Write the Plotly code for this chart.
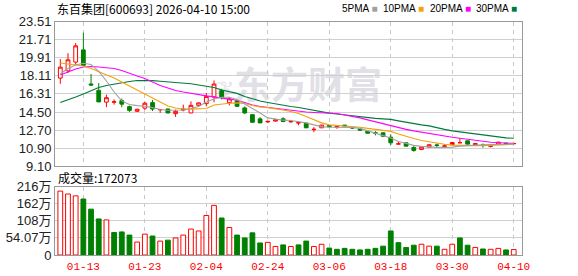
import plotly.graph_objects as go

# ---------------- data ----------------
dates = ["01-08", "01-09", "01-12", "01-13", "01-14", "01-15", "01-16", "01-19", "01-20", "01-21",
         "01-22", "01-23", "01-26", "01-27", "01-28", "01-29", "01-30",
         "02-02", "02-03", "02-04", "02-05", "02-06", "02-09", "02-10", "02-11", "02-12", "02-13",
         "02-24", "02-25", "02-26", "02-27",
         "03-02", "03-03", "03-04", "03-05", "03-06", "03-09", "03-10", "03-11", "03-12", "03-13",
         "03-16", "03-17", "03-18", "03-19", "03-20", "03-23", "03-24", "03-25", "03-26", "03-27",
         "03-30", "03-31", "04-01", "04-02", "04-03", "04-07", "04-08", "04-09", "04-10"]

opens = [17.89, 18.61, 19.48, 20.70, 17.30, 16.66, 15.49, 15.48, 15.64, 15.04,
         14.58, 14.89, 15.44, 14.72, 14.81, 14.34, 14.70, 14.41, 15.17, 15.34,
         16.00, 16.63, 15.44, 15.61, 14.91, 14.24, 13.82, 13.52, 13.60, 13.82,
         13.53, 13.41, 13.40, 12.75, 12.93, 13.15, 13.00, 13.20, 12.97, 12.80,
         12.59, 12.44, 12.43, 11.99, 11.30, 11.43, 10.97, 10.77, 11.00, 11.22,
         11.08, 11.24, 11.43, 11.63, 11.24, 11.22, 11.08, 11.27, 11.40, 11.33]
highs = [19.78, 20.37, 21.37, 22.42, 18.29, 17.39, 16.24, 15.76, 15.85, 15.14,
         14.82, 15.55, 15.71, 14.77, 14.83, 14.74, 15.24, 15.56, 15.47, 16.40,
         17.65, 16.80, 15.96, 15.65, 15.07, 14.26, 13.98, 13.60, 13.82, 13.98,
         13.60, 13.60, 13.42, 13.00, 13.22, 13.20, 13.15, 13.22, 13.02, 12.83,
         12.62, 12.60, 12.47, 12.26, 11.55, 11.45, 11.10, 11.05, 11.27, 11.37,
         11.30, 11.52, 11.90, 11.66, 11.37, 11.37, 11.28, 11.52, 11.45, 11.42]
lows = [17.32, 18.39, 19.21, 19.10, 17.12, 15.50, 14.99, 15.24, 14.98, 14.51,
        14.52, 14.71, 14.60, 14.42, 14.39, 14.02, 14.57, 14.40, 15.07, 15.07,
        15.47, 15.75, 15.17, 15.05, 14.32, 13.46, 13.40, 13.40, 13.55, 13.49,
        13.45, 13.19, 12.90, 12.49, 12.90, 13.00, 12.83, 13.08, 12.82, 12.66,
        12.37, 12.17, 12.00, 11.20, 11.30, 11.08, 10.54, 10.70, 10.98, 10.94,
        10.95, 11.22, 11.41, 11.30, 11.22, 10.94, 10.98, 11.25, 11.33, 11.32]
closes = [18.98, 19.71, 21.10, 19.15, 17.20, 15.51, 15.93, 15.52, 15.29, 14.67,
          14.78, 15.38, 14.80, 14.75, 14.41, 14.57, 14.78, 15.17, 15.41, 16.06,
          17.29, 15.98, 15.81, 15.07, 14.41, 13.48, 13.42, 13.57, 13.72, 13.56,
          13.55, 13.44, 12.93, 12.78, 13.20, 13.05, 13.05, 13.12, 12.91, 12.70,
          12.39, 12.40, 12.09, 11.43, 11.33, 11.10, 10.67, 11.00, 11.24, 11.18,
          11.12, 11.46, 11.45, 11.30, 11.35, 11.18, 11.12, 11.50, 11.35, 11.37]

ma5 = [18.30, 18.85, 19.19, 19.36, 19.24, 18.55, 17.60, 16.50, 15.61, 15.26,
       15.14, 15.08, 14.94, 14.76, 14.68, 14.66, 14.71, 14.86, 15.06, 15.51,
       15.81, 15.98, 15.98, 15.76, 15.31, 14.91, 14.41, 13.92, 13.77, 13.69,
       13.65, 13.57, 13.42, 13.22, 13.05, 12.99, 12.99, 12.99, 12.97, 12.87,
       12.62, 12.37, 12.17, 11.92, 11.57, 11.37, 11.18, 11.08, 11.00, 10.98,
       10.98, 11.00, 11.10, 11.16, 11.21, 11.23, 11.26, 11.29, 11.30, 11.30]
ma10 = [19.39, 19.29, 19.19, 19.09, 18.85, 18.55, 18.25, 17.90, 17.50, 17.10,
        16.70, 16.31, 15.91, 15.51, 15.11, 14.91, 14.81, 14.79, 14.79, 14.86,
        15.21, 15.31, 15.38, 15.41, 15.36, 15.16, 15.01, 14.94, 14.84, 14.71,
        14.56, 14.36, 14.06, 13.77, 13.42, 13.22, 13.17, 13.12, 13.07, 12.99,
        12.87, 12.77, 12.67, 12.57, 12.32, 12.07, 11.87, 11.67, 11.52, 11.39,
        11.29, 11.20, 11.16, 11.15, 11.15, 11.15, 11.16, 11.20, 11.25, 11.30]
ma20 = [18.20, 18.50, 18.80, 19.00, 19.04, 19.00, 18.95, 18.85, 18.65, 18.35,
        18.10, 17.85, 17.50, 17.15, 16.90, 16.65, 16.50, 16.36, 16.21, 16.11,
        16.01, 15.91, 15.81, 15.68, 15.46, 15.21, 15.06, 14.96, 14.84, 14.76,
        14.66, 14.61, 14.51, 14.46, 14.41, 14.38, 14.36, 14.21, 14.08, 13.92,
        13.72, 13.52, 13.32, 13.12, 12.92, 12.77, 12.62, 12.49, 12.32, 12.19,
        12.09, 11.99, 11.89, 11.77, 11.67, 11.59, 11.49, 11.44, 11.39, 11.37]
ma30 = [15.46, 15.71, 16.01, 16.31, 16.60, 16.95, 17.15, 17.30, 17.45, 17.55,
        17.65, 17.67, 17.63, 17.57, 17.52, 17.47, 17.42, 17.32, 17.20, 17.10,
        16.95, 16.70, 16.50, 16.36, 16.06, 15.81, 15.61, 15.46, 15.31, 15.16,
        15.06, 14.96, 14.81, 14.66, 14.51, 14.39, 14.31, 14.21, 14.11, 14.01,
        13.94, 13.87, 13.82, 13.77, 13.62, 13.47, 13.32, 13.22, 13.12, 12.92,
        12.77, 12.62, 12.52, 12.37, 12.27, 12.17, 12.07, 11.97, 11.92, 11.89]

# volume in 万 (10k lots); last = 172073
volumes = [202, 193, 187, 177, 145, 114, 111, 71, 73, 63,
           41, 66, 60, 44, 47, 54, 63, 82, 76, 125,
           157, 117, 87, 63, 54, 70, 38, 40, 27, 32,
           27, 32, 44, 27, 34, 22, 18, 21, 18, 16,
           18, 21, 28, 76, 39, 24, 31, 34, 28, 28,
           18, 34, 54, 31, 24, 19, 18, 21, 16, 17.2073]
vol_up = [1, 1, 1, 0, 0, 0, 1, 0, 0, 0,
          1, 1, 0, 1, 0, 1, 1, 1, 1, 1,
          1, 0, 1, 0, 0, 0, 0, 1, 1, 0,
          1, 0, 0, 1, 1, 0, 0, 0, 0, 0,
          0, 0, 0, 0, 0, 0, 0, 1, 1, 0,
          1, 1, 0, 0, 1, 0, 1, 1, 0, 1]

label_dates = ["01-13", "01-23", "02-04", "02-24", "03-06", "03-18", "03-30", "04-10"]
price_ticks = [9.10, 10.90, 12.70, 14.50, 16.31, 18.11, 19.91, 21.71, 23.51]
vol_ticks = [0, 54.07, 108, 162, 216]
vol_tick_text = ["0", "54.07万", "108万", "162万", "216万"]

title_text = "东百集团[600693] 2026-04-10 15:00"
vol_title = "成交量:172073"
watermark = "东方财富"
ma_names = ["5PMA", "10PMA", "20PMA", "30PMA"]
ma_colors = ["#a0a0a0", "#f5a20a", "#ff00ff", "#007a3a"]

# ---------------- figure ----------------
W, H = 578, 276
RED = "#ff0000"
GREEN = "#008000"
px_x = lambda p: p / W
px_y = lambda p: 1 - p / H

fig = go.Figure()

fig.add_trace(go.Candlestick(
    x=dates, open=opens, high=highs, low=lows, close=closes,
    increasing=dict(line=dict(color=RED, width=1), fillcolor="#ffffff"),
    decreasing=dict(line=dict(color=GREEN, width=1), fillcolor=GREEN),
    whiskerwidth=0, hoverinfo="skip", showlegend=False, xaxis="x", yaxis="y"))

for vals, col in zip([ma30, ma20, ma10, ma5], ma_colors[::-1]):
    fig.add_trace(go.Scatter(x=dates, y=vals, mode="lines",
                             line=dict(color=col, width=1.1),
                             hoverinfo="skip", showlegend=False, xaxis="x", yaxis="y"))

fig.add_trace(go.Bar(
    x=dates, y=volumes, width=0.62,
    marker=dict(color=["#ffffff" if u else GREEN for u in vol_up],
                line=dict(color=[RED if u else GREEN for u in vol_up], width=1)),
    hoverinfo="skip", showlegend=False, xaxis="x2", yaxis="y2"))

xdom = [px_x(55), px_x(522)]
common_x = dict(domain=xdom, type="category", range=[-0.69, 60.08],
                tickvals=label_dates, showgrid=True, gridcolor="#c8c8c8",
                griddash="4px,4px", gridwidth=1, showline=True, mirror=True,
                linecolor="#999999", linewidth=1, zeroline=False,
                fixedrange=True, automargin=False)
common_y = dict(showgrid=True, gridcolor="#d0d0d0", gridwidth=1, showline=True,
                mirror=True, linecolor="#999999", linewidth=1, zeroline=False,
                ticks="", fixedrange=True, automargin=False,
                tickfont=dict(family="Liberation Sans, Arial, Noto Sans CJK SC",
                              size=13, color="#222222"))

fig.update_layout(
    width=W, height=H, margin=dict(l=0, r=0, t=0, b=0),
    paper_bgcolor="#ffffff", plot_bgcolor="#ffffff", showlegend=False,
    xaxis=dict(**common_x, anchor="y", showticklabels=False, ticks="",
               rangeslider=dict(visible=False)),
    xaxis2=dict(**common_x, anchor="y2", matches="x", showticklabels=True,
                ticks="outside", ticklen=1, tickcolor="rgba(0,0,0,0)",
                tickfont=dict(family="Liberation Mono, DejaVu Sans Mono", size=11, color=RED)),
    yaxis=dict(**common_y, domain=[px_y(166.2), px_y(21.7)], anchor="x",
               range=[9.10, 23.51], tickvals=price_ticks,
               ticktext=[f"{v:.2f}" for v in price_ticks]),
    yaxis2=dict(**common_y, domain=[px_y(255), px_y(186.7)], anchor="x2",
                range=[0, 216], tickvals=vol_ticks, ticktext=vol_tick_text),
)

# watermark (drawn beneath the data)
fig.add_shape(type="rect", xref="paper", yref="paper",
              x0=px_x(232), x1=px_x(384), y0=px_y(106), y1=px_y(71),
              line=dict(width=0), fillcolor="rgba(0,0,0,0)", layer="below",
              label=dict(text=watermark, textposition="middle center",
                         font=dict(family="Noto Sans CJK SC", size=37, color="#e0e0e6",
                                   weight=700)))
fig.add_shape(type="rect", xref="paper", yref="paper",
              x0=px_x(212), x1=px_x(236), y0=px_y(104), y1=px_y(73),
              line=dict(width=0), fillcolor="rgba(0,0,0,0)", layer="below",
              label=dict(text="❦", textposition="middle center",
                         font=dict(family="DejaVu Sans", size=26, color="#e4e4ea")))

# title
fig.add_annotation(x=px_x(55), y=px_y(8.5), xref="paper", yref="paper",
                   xanchor="left", yanchor="middle", showarrow=False, text=title_text,
                   font=dict(family="Noto Sans CJK SC", size=12, color="#000000"))
# MA legend
leg_x = [340, 381, 428, 474]
for name, col, lx in zip(ma_names, ma_colors, leg_x):
    fig.add_annotation(x=px_x(lx), y=px_y(8.5), xref="paper", yref="paper",
                       xanchor="left", yanchor="middle", showarrow=False,
                       text=f"{name} <span style='color:{col}'>■</span>",
                       font=dict(family="Liberation Sans Narrow, Liberation Sans", size=10,
                                 color="#000000"))
# volume label
fig.add_annotation(x=px_x(56), y=px_y(177.3), xref="paper", yref="paper",
                   xanchor="left", yanchor="middle", showarrow=False, text=vol_title,
                   font=dict(family="Noto Sans CJK SC", size=12, color="#000000"))

fig.write_html("out.html")
